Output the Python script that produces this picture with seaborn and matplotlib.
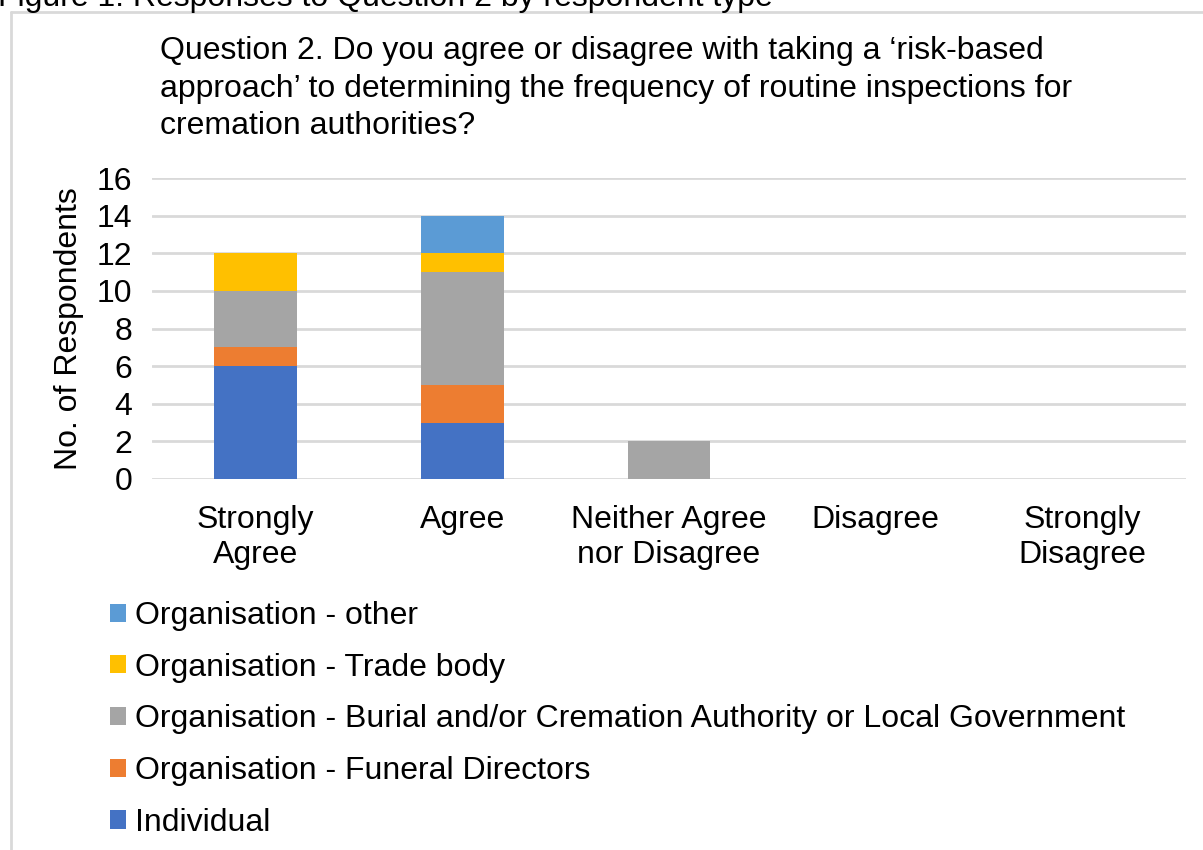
import numpy as np
import pandas as pd
import matplotlib
matplotlib.use("Agg")
import matplotlib.pyplot as plt
from matplotlib.patches import Patch
from matplotlib.lines import Line2D
import seaborn as sns

categories = ["Strongly\nAgree", "Agree", "Neither Agree\nnor Disagree", "Disagree", "Strongly\nDisagree"]
series_names = [
    "Organisation - other",
    "Organisation - Trade body",
    "Organisation - Burial and/or Cremation Authority or Local Government",
    "Organisation - Funeral Directors",
    "Individual",
]
other = [0, 2, 0, 0, 0]
trade_body = [2, 1, 0, 0, 0]
burial = [3, 6, 2, 0, 0]
funeral = [1, 2, 0, 0, 0]
individual = [6, 3, 0, 0, 0]
colors = ["#5B9BD5", "#FFC000", "#A5A5A5", "#ED7D31", "#4472C4"]
yticks = [0, 2, 4, 6, 8, 10, 12, 14, 16]

sns.set_style("white")
plt.rcParams["font.family"] = ["Liberation Sans", "DejaVu Sans"]
plt.rcParams["text.color"] = "black"
plt.rcParams["xtick.color"] = "black"
plt.rcParams["ytick.color"] = "black"
plt.rcParams["axes.labelcolor"] = "black"

FS = 23

rows = []
for name, vals in zip(series_names, [other, trade_body, burial, funeral, individual]):
    for c, v in zip(categories, vals):
        rows.append({"Category": c, "Type": name, "Count": v})
df = pd.DataFrame(rows)
df["Category"] = pd.Categorical(df["Category"], categories=categories, ordered=True)

fig = plt.figure(figsize=(12.03, 8.5), dpi=100)
ax = fig.add_axes([152 / 1203, 1 - 479 / 850, (1186 - 152) / 1203, (479 - 178) / 850])

sns.histplot(data=df, x="Category", weights="Count", hue="Type", hue_order=series_names,
             palette=colors, multiple="stack", discrete=True, shrink=0.4,
             alpha=1, linewidth=0, legend=False, ax=ax, zorder=3)

ax.set_xlim(-0.5, 4.5)
ax.set_ylim(0, 16)
ax.set_yticks(yticks)
ax.set_xticks(range(len(categories)))
ax.set_xticklabels(categories, fontsize=FS, linespacing=1.2)
ax.tick_params(axis="y", labelsize=FS, length=0, pad=14)
ax.tick_params(axis="x", length=0, pad=19)
ax.yaxis.grid(True, color="#d9d9d9", linewidth=2, zorder=0)
ax.set_axisbelow(True)
for s in ax.spines.values():
    s.set_visible(False)
ax.set_xlabel("")
ax.set_ylabel("No. of Respondents", fontsize=FS, labelpad=9)

fig.text(160 / 1203, 1 - 36 / 850,
         "Question 2. Do you agree or disagree with taking a \u2018risk-based\n"
         "approach\u2019 to determining the frequency of routine inspections for\n"
         "cremation authorities?",
         fontsize=FS, ha="left", va="top", linespacing=1.33)

fig.text(-2 / 1203, 1 - 6 / 850, "Figure 1: Responses to Question 2 by respondent type",
         fontsize=FS, ha="left", va="baseline")

fig.add_artist(Line2D([11 / 1203, 11 / 1203], [0, 1 - 12 / 850], color="#d9d9d9", linewidth=2,
                      transform=fig.transFigure))
fig.add_artist(Line2D([11 / 1203, 1], [1 - 12 / 850, 1 - 12 / 850], color="#d9d9d9", linewidth=2,
                      transform=fig.transFigure))

handles = [Patch(facecolor=c, edgecolor="none") for c in colors]
fig.legend(handles, series_names, loc="upper left", bbox_to_anchor=(110 / 1203, 1 - 601 / 850),
           frameon=False, fontsize=FS, handlelength=0.5, handleheight=0.5, handletextpad=0.28,
           labelspacing=0.68, borderaxespad=0, borderpad=0)

fig.savefig("out.png", dpi=100)
